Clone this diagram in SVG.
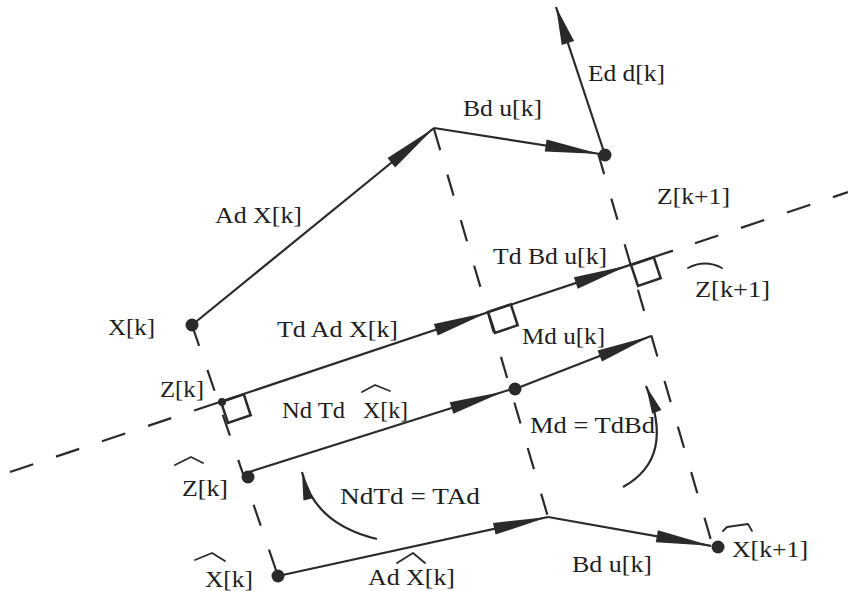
<svg xmlns="http://www.w3.org/2000/svg" width="848" height="591" viewBox="0 0 848 591">
<style>
text{font-family:"Liberation Serif","Times New Roman",serif;font-size:24px;fill:#1e1e1e}
.ln{stroke:#2a2a2a;stroke-width:2.2;fill:none}
.pd{stroke:#2a2a2a;stroke-width:2.2;fill:none;stroke-dasharray:22 25.5}
.proj{stroke:#2a2a2a;stroke-width:2.2;fill:none;stroke-dasharray:24.5 24}
.sq{stroke:#2a2a2a;stroke-width:2.5;fill:none;stroke-linejoin:miter}
.hat{stroke:#2a2a2a;stroke-width:1.8;fill:none;stroke-linejoin:round;stroke-linecap:round}
.dot{fill:#2a2a2a}
</style>
<defs>
<marker id="ah" markerUnits="userSpaceOnUse" viewBox="-57 -7 59 14" markerWidth="59" markerHeight="14" refX="0" refY="0" orient="auto"><path d="M0,0 L-55,-6 L-55,6 Z" fill="#2a2a2a"/></marker>
<marker id="ah2" markerUnits="userSpaceOnUse" viewBox="-40 -8 42 16" markerWidth="42" markerHeight="16" refX="0" refY="0" orient="auto"><path d="M0,0 L-38,-6.5 L-38,6.5 Z" fill="#2a2a2a"/></marker>
<marker id="ah3" markerUnits="userSpaceOnUse" viewBox="-30 -6 32 12" markerWidth="32" markerHeight="12" refX="0" refY="0" orient="auto"><path d="M0,0 L-28,-5 L-28,5 Z" fill="#2a2a2a"/></marker>
</defs>

<g id="connectors">
  <!-- projection line (dashed + solid part) -->
  <path class="proj" d="M10,472 L195,410.2"/>
  <path class="proj" d="M695,243.2 L848,192.1"/>
  <path class="ln" d="M195,410.2 L488,312.3" marker-end="url(#ah)"/>
  <path class="ln" d="M488,312.3 L628,265.6" marker-end="url(#ah)"/>
  <path class="ln" d="M628,265.6 L673,250.6"/>
  <!-- perpendicular dashed lines -->
  <path class="pd" d="M192,325 L278,576"/>
  <path class="pd" d="M434,129 L548,517"/>
  <path class="pd" d="M598,153 L713,547"/>
  <!-- upper vectors -->
  <path class="ln" d="M192,325 L434,128" marker-end="url(#ah)"/>
  <path class="ln" d="M434,128 L600,154" marker-end="url(#ah)"/>
  <path class="ln" d="M605,155 L556,7" marker-end="url(#ah2)"/>
  <!-- middle vectors -->
  <path class="ln" d="M249,472 L504,391.5" marker-end="url(#ah)"/>
  <path class="ln" d="M504,391.5 L515,388"/>
  <path class="ln" d="M515,389 L651,336" marker-end="url(#ah)"/>
  <!-- lower vectors -->
  <path class="ln" d="M278,576 L548,517" marker-end="url(#ah)"/>
  <path class="ln" d="M548,517 L711,545.8" marker-end="url(#ah)"/>
  <!-- curved arrows -->
  <path class="ln" d="M377,539 Q314,524 302,472" marker-end="url(#ah3)"/>
  <path class="ln" d="M623,487 Q676,458 646,386" marker-end="url(#ah3)"/>
  <!-- right-angle markers -->
  <path class="sq" d="M221,402 L243.8,394.4 L250.7,415.3 L228,422.9 Z"/>
  <path class="sq" d="M488,312 L510.8,304.4 L517.7,325.3 L495,332.9 Z"/>
  <path class="sq" d="M631,265 L653.8,257.4 L660.7,278.3 L638,285.9 Z"/>
  <!-- connector labels -->
  <text x="588" y="81" textLength="77" lengthAdjust="spacingAndGlyphs">Ed d[k]</text>
  <text x="463" y="116" textLength="79" lengthAdjust="spacingAndGlyphs">Bd u[k]</text>
  <text x="215" y="223" textLength="87" lengthAdjust="spacingAndGlyphs">Ad X[k]</text>
  <text x="493" y="264" textLength="114" lengthAdjust="spacingAndGlyphs">Td Bd u[k]</text>
  <text x="277" y="337" textLength="121" lengthAdjust="spacingAndGlyphs">Td Ad X[k]</text>
  <text x="522" y="344" textLength="83" lengthAdjust="spacingAndGlyphs">Md u[k]</text>
  <text x="282" y="418"><tspan textLength="63" lengthAdjust="spacingAndGlyphs">Nd Td</tspan><tspan x="363" textLength="45" lengthAdjust="spacingAndGlyphs">X[k]</tspan></text>
  <path class="hat" d="M362,392 L375,385 L390,391"/>
  <text x="530" y="433" textLength="125" lengthAdjust="spacingAndGlyphs">Md = TdBd</text>
  <text x="340" y="504" textLength="140" lengthAdjust="spacingAndGlyphs">NdTd = TAd</text>
  <text x="368" y="585" textLength="87" lengthAdjust="spacingAndGlyphs">Ad X[k]</text>
  <path class="hat" d="M397,563 L413,553 L425,563"/>
  <text x="572" y="572" textLength="80" lengthAdjust="spacingAndGlyphs">Bd u[k]</text>
</g>

<g id="node-xk">
  <circle class="dot" cx="192" cy="325" r="6.5"/>
  <text x="108" y="335" textLength="47" lengthAdjust="spacingAndGlyphs">X[k]</text>
</g>
<g id="node-top-vertex">
  <circle class="dot" cx="605" cy="155" r="6.5"/>
</g>
<g id="node-zk1">
  <text x="657" y="204" textLength="73" lengthAdjust="spacingAndGlyphs">Z[k+1]</text>
</g>
<g id="node-zk1-hat">
  <text x="695" y="297" textLength="75" lengthAdjust="spacingAndGlyphs">Z[k+1]</text>
  <path class="hat" d="M688,268 Q705,259 722,268"/>
</g>
<g id="node-zk">
  <circle class="dot" cx="222" cy="402" r="4"/>
  <text x="160" y="397" textLength="44" lengthAdjust="spacingAndGlyphs">Z[k]</text>
</g>
<g id="node-mid">
  <circle class="dot" cx="515" cy="389" r="6.5"/>
</g>
<g id="node-zk-hat">
  <circle class="dot" cx="248" cy="477" r="6.5"/>
  <text x="182" y="496" textLength="46" lengthAdjust="spacingAndGlyphs">Z[k]</text>
  <path class="hat" d="M175,465 L191,457 L203,463"/>
</g>
<g id="node-xk-hat">
  <circle class="dot" cx="278" cy="576" r="6.5"/>
  <text x="205" y="587" textLength="48" lengthAdjust="spacingAndGlyphs">X[k]</text>
  <path class="hat" d="M195,560 L212,553 L225,561"/>
</g>
<g id="node-xk1-hat">
  <circle class="dot" cx="718" cy="547" r="6.5"/>
  <text x="732" y="557" textLength="76" lengthAdjust="spacingAndGlyphs">X[k+1]</text>
  <path class="hat" d="M723,531 L727,527 L748,524 L752,531"/>
</g>
</svg>
